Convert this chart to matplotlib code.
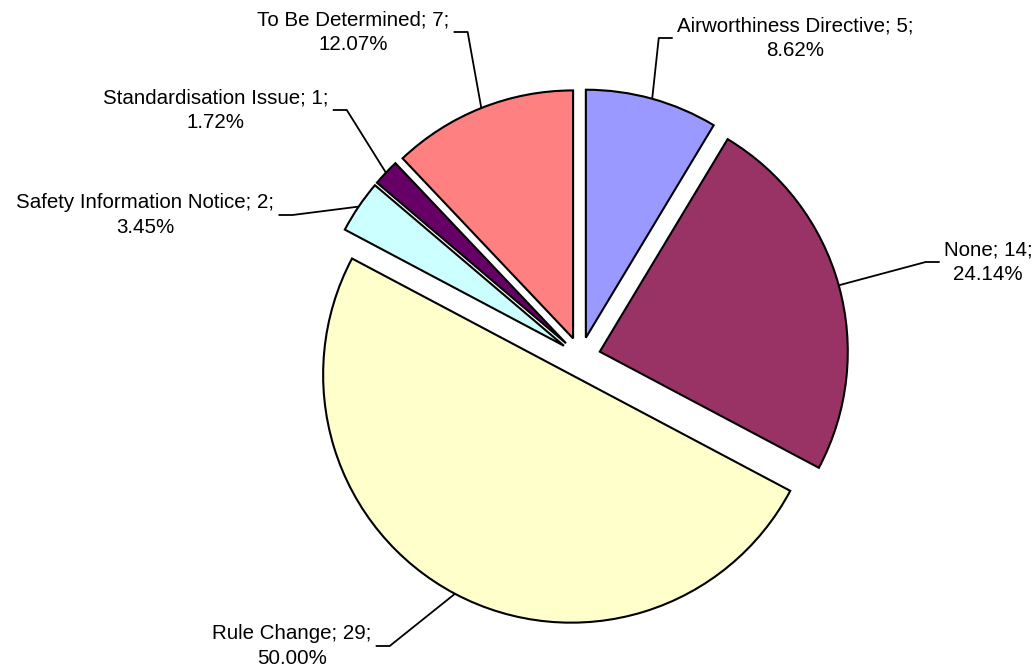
import numpy as np
import matplotlib.pyplot as plt

categories = ["Airworthiness Directive", "None", "Rule Change",
              "Safety Information Notice", "Standardisation Issue", "To Be Determined"]
counts = [5, 14, 29, 2, 1, 7]
colors = ["#9999FF", "#993366", "#FFFFCC", "#CCFFFF", "#660066", "#FF8080"]

# label block centres (pixels from top-left) and which side the leader joins
label_pos = [(795, 38), (988, 262), (292, 646), (145.5, 215), (216, 110), (353.5, 32)]
label_side = ["left", "left", "right", "right", "right", "right"]

W, H = 1036, 671
plt.rcParams["font.family"] = ["Liberation Sans", "DejaVu Sans"]

fig = plt.figure(figsize=(W / 100, H / 100), dpi=100)
ax = fig.add_axes([0, 0, 1, 1])

R = 248
cx, cy = 580.5, H - 357
wedges, _ = ax.pie(counts, colors=colors, startangle=90, counterclock=False,
                   radius=R, center=(cx, cy), explode=[20] * len(counts),
                   wedgeprops=dict(edgecolor="black", linewidth=1.5))
ax.set_xlim(0, W)
ax.set_ylim(0, H)
ax.set_aspect("equal")
ax.axis("off")

total = sum(counts)
texts = []
for name, n, (tx, ty) in zip(categories, counts, label_pos):
    s = f"{name}; {n};\n{n / total * 100:.2f}%"
    t = ax.text(tx, H - ty, s, ha="center", va="center", fontsize=14.8,
                multialignment="center", linespacing=1.4)
    texts.append(t)

fig.canvas.draw()
inv = ax.transData.inverted()
for w, t, side in zip(wedges, texts, label_side):
    # anchor on the arc at the middle of the slice
    mid = np.deg2rad((w.theta1 + w.theta2) / 2)
    ax0 = w.center[0] + w.r * np.cos(mid)
    ay0 = w.center[1] + w.r * np.sin(mid)
    bb = t.get_window_extent().transformed(inv)
    ymid = (bb.y0 + bb.y1) / 2
    if side == "left":
        x_end = bb.x0 - 4
        x_elb = x_end - 14
    else:
        x_end = bb.x1 + 4
        x_elb = x_end + 14
    ax.plot([ax0, x_elb, x_end], [ay0, ymid, ymid], color="black", lw=1.3,
            solid_capstyle="butt")

fig.savefig("out.png", dpi=100)
